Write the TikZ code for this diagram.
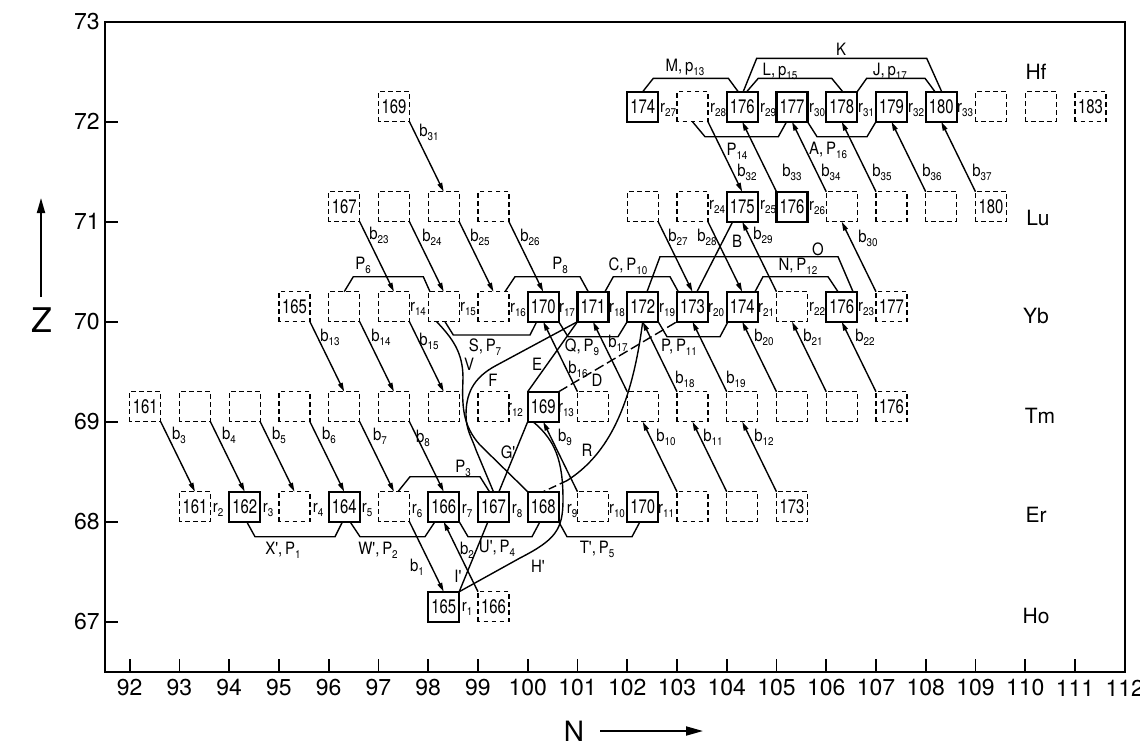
\documentclass[tikz,border=0pt]{standalone}
\usepackage{fontspec}
\setmainfont{TeX Gyre Heros}
\newfontfamily\boxfont[FakeStretch=0.76]{TeX Gyre Heros}
\newfontfamily\labfont[FakeStretch=0.88]{TeX Gyre Heros}
\usetikzlibrary{arrows.meta}
\newcommand\su[1]{\raisebox{-0.45ex}{\fontsize{5.6}{6}\selectfont #1}}
\newcommand\iso[5]{\node[#1] (#2) at ({129.7+(#3-92)*49.75},{421.7-(#4-69)*100}) {#5};}
\newcommand\lab[3]{\node[lbl] (#1) at (#2) {#3};}
\tikzset{
  sbox/.style={draw, line width=1.2pt, minimum width=15.5pt, minimum height=15pt,
    inner sep=0pt, outer sep=0pt, anchor=south west,
    font=\boxfont\fontsize{9.8}{10}\selectfont},
  dbox/.style={sbox, line width=0.7pt, dash pattern=on 2.4pt off 1.6pt, dash phase=1.2pt},
  ln/.style={line width=0.7pt},
  arr/.style={ln, -{Triangle[length=4.5pt,width=2.4pt]}},
  lbl/.style={font=\labfont\fontsize{8.5}{9}\selectfont, inner sep=0pt},
  elab/.style={font=\fontsize{10.5}{11}\selectfont, inner sep=0pt},
  ticklab/.style={font=\fontsize{11.5}{12}\selectfont, inner sep=0pt},
}
\begin{document}
\begin{tikzpicture}[x=0.5pt,y=-0.5pt]
\useasboundingbox (0,0) rectangle (1140,745);
% frame and axes
\draw[line width=1pt] (105,21.7) rectangle (1124.7,671.7);
\foreach \z in {67,...,72} \draw[line width=0.8pt] (105,{421.7-(\z-69)*100}) -- (118,{421.7-(\z-69)*100});
\foreach \z in {67,...,73} \node[ticklab, anchor=east] (zl\z) at (100,{421.7-(\z-69)*100}) {\z};
\foreach \n in {92,...,111} \draw[line width=0.8pt] ({129.7+(\n-92)*49.75},671.7) -- ({129.7+(\n-92)*49.75},659);
\foreach \n in {92,...,112} \node[ticklab] (nl\n) at ({129.7+(\n-92)*49.75},688) {\n};
\node[font=\fontsize{17}{18}\selectfont, inner sep=0pt] (axZ) at (42,320) {Z};
\coordinate (zfoot) at (41,297);
\coordinate (ztip) at (41,198);
\draw[line width=0.9pt, -{Triangle[length=7.5pt,width=4pt]}] (zfoot) -- (ztip);
\node[font=\fontsize{14}{15}\selectfont, inner sep=0pt] (axN) at (574,731) {N};
\coordinate (nfoot) at (600,731);
\coordinate (ntip) at (703,731);
\draw[line width=0.9pt, -{Triangle[length=8.5pt,width=4.5pt]}] (nfoot) -- (ntip);
% element labels
\node[elab] (hf) at (1036,72) {Hf};
\node[elab] (lu) at (1038,218) {Lu};
\node[elab] (yb) at (1036,316) {Yb};
\node[elab] (tm) at (1040,416) {Tm};
\node[elab] (er) at (1036,515) {Er};
\node[elab] (ho) at (1036,616) {Ho};
% Hf (Z=72)
\iso{dbox}{h97}{97}{72}{169}
\iso{sbox}{h102}{102}{72}{174}
\iso{dbox}{h103}{103}{72}{}
\iso{sbox}{h104}{104}{72}{176}
\iso{sbox}{h105}{105}{72}{177}
\iso{sbox}{h106}{106}{72}{178}
\iso{sbox}{h107}{107}{72}{179}
\iso{sbox}{h108}{108}{72}{180}
\iso{dbox}{h109}{109}{72}{}
\iso{dbox}{h110}{110}{72}{}
\iso{dbox}{h111}{111}{72}{183}
% Lu (Z=71)
\iso{dbox}{l96}{96}{71}{167}
\iso{dbox}{l97}{97}{71}{}
\iso{dbox}{l98}{98}{71}{}
\iso{dbox}{l99}{99}{71}{}
\iso{dbox}{l102}{102}{71}{}
\iso{dbox}{l103}{103}{71}{}
\iso{sbox}{l104}{104}{71}{175}
\iso{sbox}{l105}{105}{71}{176}
\iso{dbox}{l106}{106}{71}{}
\iso{dbox}{l107}{107}{71}{}
\iso{dbox}{l108}{108}{71}{}
\iso{dbox}{l109}{109}{71}{180}
% Yb (Z=70)
\iso{dbox}{y95}{95}{70}{165}
\iso{dbox}{y96}{96}{70}{}
\iso{dbox}{y97}{97}{70}{}
\iso{dbox}{y98}{98}{70}{}
\iso{dbox}{y99}{99}{70}{}
\iso{sbox}{y100}{100}{70}{170}
\iso{sbox}{y101}{101}{70}{171}
\iso{sbox}{y102}{102}{70}{172}
\iso{sbox}{y103}{103}{70}{173}
\iso{sbox}{y104}{104}{70}{174}
\iso{dbox}{y105}{105}{70}{}
\iso{sbox}{y106}{106}{70}{176}
\iso{dbox}{y107}{107}{70}{177}
% Tm (Z=69)
\iso{dbox}{t92}{92}{69}{161}
\foreach \n in {93,...,99} {\iso{dbox}{t\n}{\n}{69}{}}
\iso{sbox}{t100}{100}{69}{169}
\foreach \n in {101,...,106} {\iso{dbox}{t\n}{\n}{69}{}}
\iso{dbox}{t107}{107}{69}{176}
% Er (Z=68)
\iso{dbox}{e93}{93}{68}{161}
\iso{sbox}{e94}{94}{68}{162}
\iso{dbox}{e95}{95}{68}{}
\iso{sbox}{e96}{96}{68}{164}
\iso{dbox}{e97}{97}{68}{}
\iso{sbox}{e98}{98}{68}{166}
\iso{sbox}{e99}{99}{68}{167}
\iso{sbox}{e100}{100}{68}{168}
\iso{dbox}{e101}{101}{68}{}
\iso{sbox}{e102}{102}{68}{170}
\iso{dbox}{e103}{103}{68}{}
\iso{dbox}{e104}{104}{68}{}
\iso{dbox}{e105}{105}{68}{173}
% Ho (Z=67)
\iso{sbox}{o98}{98}{67}{165}
\iso{dbox}{o99}{99}{67}{166}
% beta+ arrows
\foreach \a/\b in {e97/o98, t92/e93, t93/e94, t94/e95, t95/e96, t96/e97, t97/e98,
  y95/t96, y96/t97, y97/t98, l96/y97, l97/y98, l98/y99, l99/y100, l102/y103, l103/y104,
  h97/l98, h103/l104}
  \draw[arr] (\a.south east) -- (\b.north);
% beta- arrows
\foreach \a/\b in {o99/e98, e101/t100, e103/t102, e104/t103, e105/t104,
  t101/y100, t102/y101, t103/y102, t104/y103, t105/y104, t106/y105, t107/y106,
  y105/l104, y107/l106, l105/h104, l106/h105, l107/h106, l108/h107, l109/h108}
  \draw[arr] (\a.north west) -- (\b.south);
% Hf brackets
\draw[ln] (h102.north) -- (653.3,78.3) -- (728.3,78.3) -- ([shift={(-4,0)}]h104.north);
\draw[ln] ([shift={(1,0)}]h104.north) -- (756.7,58.3) -- (926.7,58.3) -- ([shift={(0.5,0)}]h108.north);
\draw[ln] ([shift={(4.5,0)}]h104.north) -- (758.3,78.3) -- (831.7,78.3) -- ([shift={(1,0)}]h106.north);
\draw[ln] (h106.north east) -- (866.7,78.3) -- (925,78.3) -- ([shift={(-6.2,0)}]h108.north);
\draw[ln] (h103.south) -- (705,136.7) -- (778.3,136.7) -- ([shift={(-5.3,0)}]h105.south);
\draw[ln] (h105.south east) -- (817,136.7) -- (867,136.7) -- (h107.south west);
% Yb brackets
\draw[ln] (y96.north) -- (353.3,276.7) -- (423.3,276.7) -- ([shift={(1.8,0)}]y98.north west);
\draw[ln] ([shift={(-4,0)}]y99.north east) -- (515,276.7) -- (580,276.7) -- ([shift={(-4.7,0)}]y101.north);
\draw[ln] ([shift={(-3.5,0)}]y101.north east) -- (613.3,276.7) -- (670,276.7) -- ([shift={(1.3,0)}]y103.north west);
\draw[ln] ([shift={(4.3,0)}]y102.north) -- (660,256.7) -- (838,256.7) -- ([shift={(-4.2,0)}]y106.north east);
\draw[ln] ([shift={(-2.7,0)}]y104.north east) -- (763,276.7) -- (828,276.7) -- ([shift={(-3.7,0)}]y106.north);
\draw[ln] ([shift={(1.3,0)}]y98.south) -- (453.3,335) -- (530,335) -- ([shift={(-6.5,0)}]y100.south);
\draw[ln] (y100.south east) -- (568,336.7) -- (618,336.7) -- (y102.south west);
\draw[ln] (y102.south east) -- (667,336.7) -- (720,336.7) -- ([shift={(1.3,0)}]y104.south west);
% Er brackets
\draw[ln] ([shift={(4,0)}]e97.north) -- (410,476.7) -- (480,476.7) -- ([shift={(-4,0)}]e99.north);
\draw[ln] ([shift={(2,0)}]e94.south) -- (255,536.7) -- (335,536.7) -- ([shift={(-1.7,0)}]e96.south);
\draw[ln] ([shift={(5.8,0)}]e96.south) -- (360,536.7) -- (425,536.7) -- ([shift={(6.8,0)}]e98.south west);
\draw[ln] (e98.south east) -- (468,536.7) -- (532,536.7) -- ([shift={(-3.2,0)}]e100.south);
\draw[ln] (e100.south east) -- (567,536.7) -- (632,536.7) -- ([shift={(-2.7,0)}]e102.south);
% other connections
\draw[ln] ([shift={(4.5,0)}]y103.north) -- ([shift={(6,0)}]l104.south west);
\draw[ln] (t100.north west) -- (y101.south west);
\draw[ln, dash pattern=on 5pt off 2pt] (t100.north east) -- (y103.south west);
\draw[ln] (t100.south west) -- ([shift={(21,0)}]e99.north west);
\coordinate (rmid) at (567,480.6);
\draw[ln] (y102.south) .. controls (631.9,405.3) and (608.6,454.2) .. (rmid);
\draw[ln, dash pattern=on 4pt off 2pt] (rmid) -- (e100.north);
\draw[ln] ([shift={(5.3,0)}]t100.south west) .. controls (555,440) and (563,460) .. (563,500)
  .. controls (563,530) and (555,540) .. (520,558) -- (o98.north east);
\draw[ln] (o98.north east) -- ([shift={(10,0)}]e99.south west);
% V
\draw[ln] ([shift={(8.5,0)}]y98.south west) .. controls (452,338) and (463,352) .. (463,378)
  .. controls (462,405) and (462,425) .. (480,445) -- (e100.north west);
% F
\draw[ln] (y101.south west) -- (497,365) .. controls (472,378) and (466,395) .. (466,415)
  .. controls (466,430) and (472,438) .. (476,450) -- (e99.north);
% b labels
\lab{lb1}{417,567}{b\su{1}}
\lab{lb2}{467,550}{b\su{2}}
\lab{lb3}{179,435}{b\su{3}}
\lab{lb4}{229,435}{b\su{4}}
\lab{lb5}{279,435}{b\su{5}}
\lab{lb6}{329,435}{b\su{6}}
\lab{lb7}{380,436}{b\su{7}}
\lab{lb8}{423,438}{b\su{8}}
\lab{lb9}{565,437}{b\su{9}}
\lab{lb10}{666,437}{b\su{10}}
\lab{lb11}{713,437}{b\su{11}}
\lab{lb12}{764,437}{b\su{12}}
\lab{lb13}{330,337}{b\su{13}}
\lab{lb14}{381,337}{b\su{14}}
\lab{lb15}{429,341}{b\su{15}}
\lab{lb16}{578,369}{b\su{16}}
\lab{lb17}{618,343}{b\su{17}}
\lab{lb18}{685,379}{b\su{18}}
\lab{lb19}{736,379}{b\su{19}}
\lab{lb20}{764,337}{b\su{20}}
\lab{lb21}{813,337}{b\su{21}}
\lab{lb22}{865,337}{b\su{22}}
\lab{lb23}{379,235}{b\su{23}}
\lab{lb24}{432,237}{b\su{24}}
\lab{lb25}{480,237}{b\su{25}}
\lab{lb26}{530,237}{b\su{26}}
\lab{lb27}{678,237}{b\su{27}}
\lab{lb28}{707,237}{b\su{28}}
\lab{lb29}{763,235}{b\su{29}}
\lab{lb30}{868,238}{b\su{30}}
\lab{lb31}{429,132}{b\su{31}}
\lab{lb32}{747,172}{b\su{32}}
\lab{lb33}{792,172}{b\su{33}}
\lab{lb34}{831,172}{b\su{34}}
\lab{lb35}{882,172}{b\su{35}}
\lab{lb36}{932,172}{b\su{36}}
\lab{lb37}{982,172}{b\su{37}}
% r labels
\lab{lr1}{467,609}{r\su{1}}
\lab{lr2}{218,510}{r\su{2}}
\lab{lr3}{268,510}{r\su{3}}
\lab{lr4}{318,510}{r\su{4}}
\lab{lr5}{367,510}{r\su{5}}
\lab{lr6}{417,511}{r\su{6}}
\lab{lr7}{467,511}{r\su{7}}
\lab{lr8}{517,511}{r\su{8}}
\lab{lr9}{572,511}{r\su{9}}
\lab{lr10}{617,511}{r\su{10}}
\lab{lr11}{666,511}{r\su{11}}
\lab{lr12}{515,410}{r\su{12}}
\lab{lr13}{566,410}{r\su{13}}
\lab{lr14}{418,309}{r\su{14}}
\lab{lr15}{468,309}{r\su{15}}
\lab{lr16}{518,310}{r\su{16}}
\lab{lr17}{567,310}{r\su{17}}
\lab{lr18}{617,310}{r\su{18}}
\lab{lr19}{667,310}{r\su{19}}
\lab{lr20}{716,310}{r\su{20}}
\lab{lr21}{766,310}{r\su{21}}
\lab{lr22}{817,309}{r\su{22}}
\lab{lr23}{866,309}{r\su{23}}
\lab{lr24}{717,207}{r\su{24}}
\lab{lr25}{768,207}{r\su{25}}
\lab{lr26}{817,208}{r\su{26}}
\lab{lr27}{668,110}{r\su{27}}
\lab{lr28}{718,110}{r\su{28}}
\lab{lr29}{768,110}{r\su{29}}
\lab{lr30}{817,110}{r\su{30}}
\lab{lr31}{866,110}{r\su{31}}
\lab{lr32}{916,110}{r\su{32}}
\lab{lr33}{965,110}{r\su{33}}
% bracket and line labels
\lab{lM}{685,67}{M,\,p\su{13}}
\lab{lK}{841,49}{K}
\lab{lL}{780,71}{L,\,p\su{15}}
\lab{lJ}{890,71}{J,\,p\su{17}}
\lab{lA}{828,150}{A,\,P\su{16}}
\lab{lP14}{737,151}{P\su{14}}
\lab{lP6}{363,265}{P\su{6}}
\lab{lP8}{560,265}{P\su{8}}
\lab{lC}{628,266}{C,\,P\su{10}}
\lab{lO}{818,249}{O}
\lab{lNP}{798,266}{N,\,P\su{12}}
\lab{lS}{485,347}{S,\,P\su{7}}
\lab{lV}{469,364}{V}
\lab{lQ}{582,347}{Q,\,P\su{9}}
\lab{lE}{537,364}{E}
\lab{lF}{493,380}{F}
\lab{lD}{597,380}{D}
\lab{lPP}{679,347}{P,\,P\su{11}}
\lab{lB}{737,241}{B}
\lab{lG}{508,452}{G'}
\lab{lR}{587,450}{R}
\lab{lP3}{463,468}{P\su{3}}
\lab{lX}{283,550}{X',\,P\su{1}}
\lab{lW}{378,550}{W',\,P\su{2}}
\lab{lU}{497,548}{U',\,P\su{4}}
\lab{lT}{597,549}{T',\,P\su{5}}
\lab{lI}{458,576}{I'}
\lab{lH}{538,566}{H'}
\end{tikzpicture}
\end{document}
